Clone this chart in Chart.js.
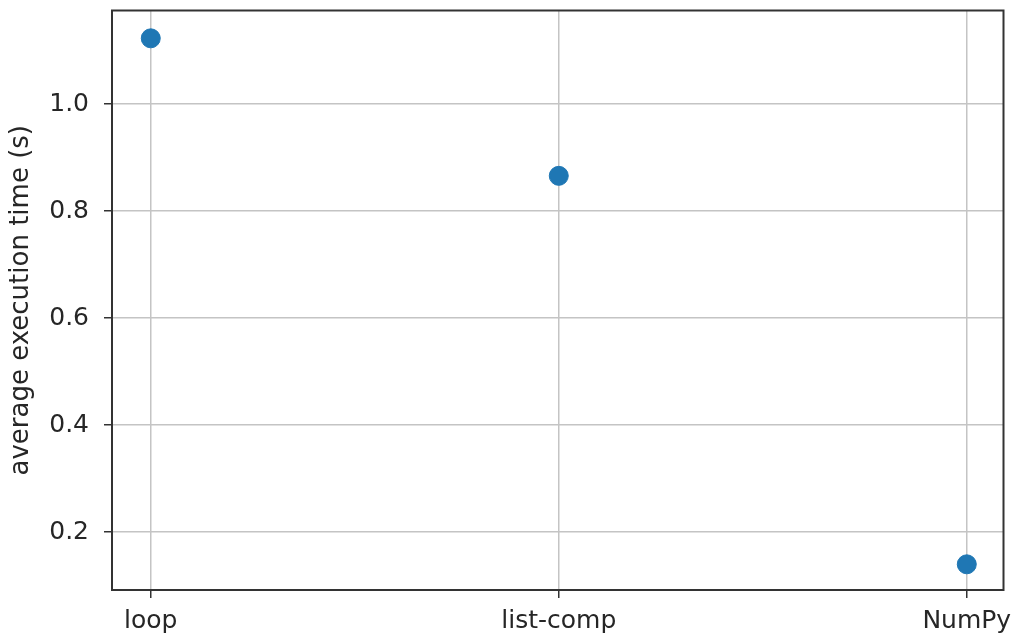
<!DOCTYPE html>
<html>
<head>
<meta charset="utf-8">
<script src="https://cdn.jsdelivr.net/npm/chart.js@4/dist/chart.umd.min.js"></script>
<style>
  html, body { margin: 0; padding: 0; background: #fff; }
  #wrap { width: 1014px; height: 636px; }
</style>
</head>
<body>
<div id="wrap"><canvas id="mycanvas" width="1014" height="636"></canvas></div>
<script>
var methods = ['loop', 'list-comp', 'NumPy'];
var avgTime = [1.123, 0.866, 0.140];
var yTicks = [0.2, 0.4, 0.6, 0.8, 1.0];

var points = [];
for (var i in methods) {
  points.push({ x: Number(i), y: avgTime[i] });
}

// full box around the plot area, like matplotlib spines
var frame = {
  id: 'frame',
  afterDraw: function(chart) {
    var a = chart.chartArea;
    var c = chart.ctx;
    c.save();
    c.strokeStyle = '#333';
    c.lineWidth = 2;
    c.strokeRect(a.left, a.top, a.right - a.left, a.bottom - a.top);
    c.restore();
  }
};

var ctx = document.getElementById('mycanvas');
var scatter = new Chart(ctx, {
  type: 'scatter',
  data: {
    datasets: [{
      label: 'avg',
      data: points,
      backgroundColor: '#1f77b4',
      borderColor: '#1f77b4',
      pointRadius: 9.5,
      pointHoverRadius: 9.5
    }]
  },
  options: {
    responsive: false,
    animation: false,
    layout: { padding: { top: 9, right: 8, left: 0, bottom: 0 } },
    plugins: { legend: { display: false }, tooltip: { enabled: false } },
    scales: {
      x: {
        type: 'linear',
        min: -0.095,
        max: 2.09,
        afterBuildTicks: function(s) {
          s.ticks = methods.map(function(m, k) { return { value: k }; });
        },
        afterFit: function(s) {
          s.height = 46;
          s.paddingLeft = 0;
          s.paddingRight = 0;
        },
        grid: { color: '#c4c4c4', lineWidth: 1.5, tickColor: '#333', tickLength: 8 },
        border: { display: false },
        ticks: {
          color: '#262626',
          font: { family: 'DejaVu Sans', size: 25 },
          padding: 8,
          maxRotation: 0,
          callback: function(v) { return methods[v]; }
        }
      },
      y: {
        min: 0.092,
        max: 1.175,
        afterBuildTicks: function(s) {
          s.ticks = yTicks.map(function(t) { return { value: t }; });
        },
        afterFit: function(s) {
          s.width = 112;
          s.paddingTop = 0;
          s.paddingBottom = 0;
        },
        grid: { color: '#c4c4c4', lineWidth: 1.5, tickColor: '#333', tickLength: 8 },
        border: { display: false },
        title: {
          display: true,
          text: 'average execution time (s)',
          color: '#262626',
          font: { family: 'DejaVu Sans', size: 26 },
          padding: { top: 6, bottom: 0 }
        },
        ticks: {
          color: '#262626',
          font: { family: 'DejaVu Sans', size: 25 },
          padding: 15,
          callback: function(v) { return v.toFixed(1); }
        }
      }
    }
  },
  plugins: [frame]
});
</script>
</body>
</html>
